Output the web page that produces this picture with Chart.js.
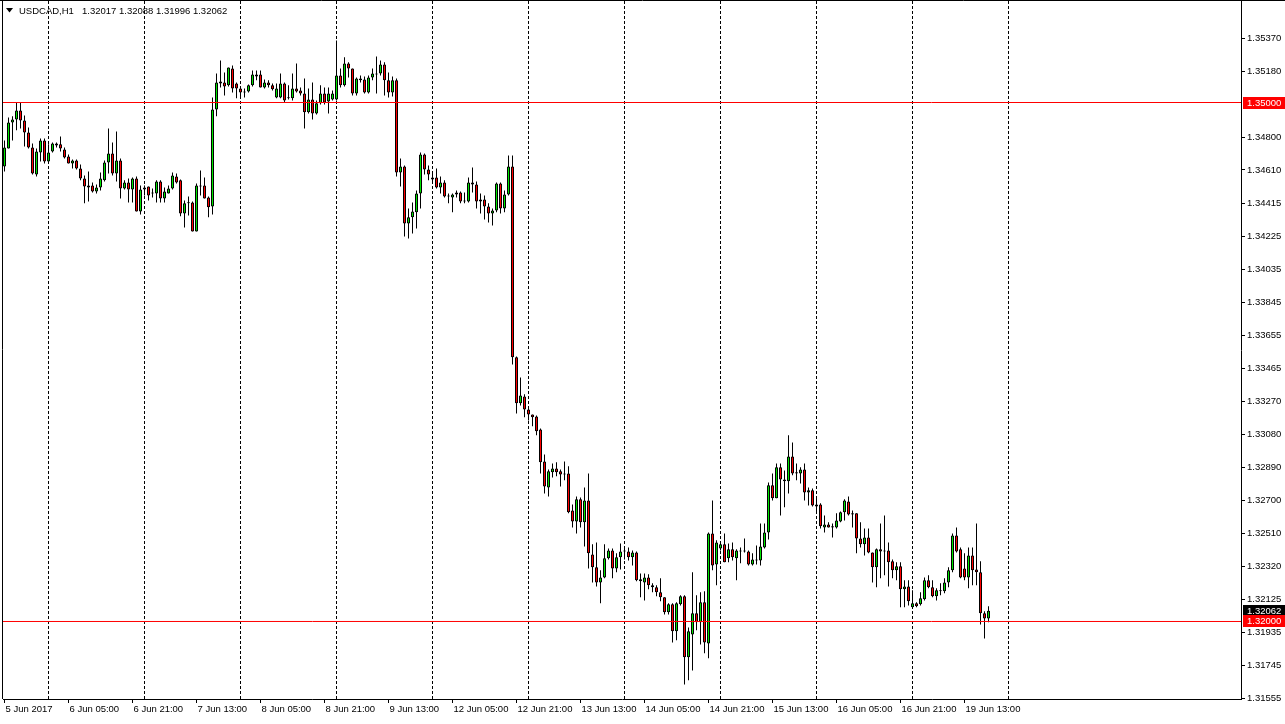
<!DOCTYPE html>
<html lang="en">
<head>
  <meta charset="UTF-8" />
  <title>USDCAD,H1</title>
  <style>
    body { margin: 0; padding: 0; background: #fff; }
    canvas { display: block; }
  </style>
</head>
<body>
  <canvas id="chart" width="1285" height="724"></canvas>

  <script src="https://cdn.jsdelivr.net/npm/chart.js"></script>

  <script>
    // USDCAD H1, bars from 5 Jun 13:00 to 19 Jun 19:00 (bar index 1 = first visible bar)
    const opens = [
      1.34630,1.34734,1.34885,1.34902,1.34954,1.34896,1.34827,1.34740,1.34584,1.34711,
      1.34781,1.34659,1.34717,1.34752,1.34758,1.34729,1.34688,1.34648,1.34665,1.34619,
      1.34561,1.34520,1.34520,1.34486,1.34509,1.34550,1.34653,1.34705,1.34590,1.34665,
      1.34503,1.34538,1.34497,1.34561,1.34370,1.34497,1.34515,1.34480,1.34474,1.34544,
      1.34445,1.34474,1.34503,1.34572,1.34550,1.34359,1.34422,1.34422,1.34255,1.34515,
      1.34520,1.34451,1.34399,1.34960,1.35110,1.35116,1.35099,1.35197,1.35110,1.35081,
      1.35058,1.35064,1.35099,1.35162,1.35162,1.35087,1.35116,1.35099,1.35029,1.35029,
      1.35110,1.35024,1.35024,1.35081,1.35070,1.35052,1.34943,1.35018,1.34937,1.34995,
      1.35052,1.35006,1.35018,1.35018,1.35156,1.35099,1.35226,1.35197,1.35052,1.35139,
      1.35133,1.35058,1.35145,1.35168,1.35168,1.35220,1.35128,1.35058,1.35128,1.34596,
      1.34630,1.34301,1.34336,1.34365,1.34474,1.34700,1.34613,1.34555,1.34567,1.34509,
      1.34538,1.34457,1.34451,1.34468,1.34480,1.34428,1.34428,1.34538,1.34526,1.34428,
      1.34440,1.34399,1.34359,1.34376,1.34532,1.34388,1.34468,1.34630,1.33527,1.33261,
      1.33301,1.33226,1.33197,1.33185,1.33110,1.32925,1.32775,1.32862,1.32885,1.32868,
      1.32856,1.32856,1.32642,1.32578,1.32706,1.32573,1.32700,1.32388,1.32313,1.32226,
      1.32255,1.32365,1.32411,1.32307,1.32371,1.32405,1.32405,1.32371,1.32399,1.32244,
      1.32226,1.32255,1.32209,1.32198,1.32169,1.32140,1.32053,1.32099,1.31943,1.32099,
      1.32146,1.31793,1.31925,1.32047,1.31995,1.32111,1.31873,1.32509,1.32330,1.32422,
      1.32446,1.32365,1.32417,1.32365,1.32405,1.32405,1.32405,1.32330,1.32353,1.32353,
      1.32428,1.32515,1.32787,1.32712,1.32891,1.32821,1.32810,1.32954,1.32862,1.32856,
      1.32879,1.32746,1.32758,1.32677,1.32677,1.32544,1.32561,1.32550,1.32544,1.32578,
      1.32631,1.32694,1.32625,1.32625,1.32480,1.32446,1.32486,1.32399,1.32313,1.32417,
      1.32411,1.32411,1.32348,1.32296,1.32319,1.32186,1.32203,1.32082,1.32105,1.32099,
      1.32128,1.32238,1.32198,1.32146,1.32180,1.32175,1.32226,1.32296,1.32497,1.32417,
      1.32307,1.32255,1.32382,1.32301,1.32284,1.32047,1.32017
    ];
    const highs = [
      1.34781,1.34914,1.34920,1.35000,1.35000,1.34925,1.34856,1.34763,1.34734,1.34792,
      1.34792,1.34758,1.34769,1.34769,1.34804,1.34740,1.34700,1.34671,1.34671,1.34642,
      1.34578,1.34601,1.34538,1.34526,1.34596,1.34665,1.34850,1.34769,1.34833,1.34677,
      1.34550,1.34561,1.34567,1.34572,1.34520,1.34520,1.34515,1.34503,1.34550,1.34550,
      1.34509,1.34520,1.34596,1.34590,1.34555,1.34434,1.34457,1.34428,1.34532,1.34607,
      1.34567,1.34457,1.35029,1.35168,1.35243,1.35174,1.35203,1.35214,1.35116,1.35087,
      1.35081,1.35104,1.35185,1.35185,1.35185,1.35133,1.35128,1.35110,1.35110,1.35168,
      1.35116,1.35099,1.35168,1.35226,1.35087,1.35139,1.35081,1.35116,1.35012,1.35099,
      1.35087,1.35087,1.35070,1.35359,1.35197,1.35261,1.35232,1.35197,1.35145,1.35156,
      1.35151,1.35156,1.35197,1.35266,1.35243,1.35232,1.35174,1.35151,1.35139,1.34677,
      1.34636,1.34388,1.34422,1.34492,1.34711,1.34705,1.34636,1.34590,1.34619,1.34572,
      1.34550,1.34474,1.34474,1.34492,1.34486,1.34480,1.34567,1.34625,1.34544,1.34474,
      1.34463,1.34417,1.34388,1.34538,1.34538,1.34492,1.34694,1.34694,1.33532,1.33411,
      1.33313,1.33237,1.33197,1.33191,1.33116,1.32966,1.32879,1.32914,1.32920,1.32879,
      1.32925,1.32897,1.32677,1.32723,1.32717,1.32775,1.32856,1.32446,1.32457,1.32296,
      1.32446,1.32422,1.32422,1.32394,1.32451,1.32434,1.32428,1.32411,1.32405,1.32278,
      1.32278,1.32273,1.32221,1.32209,1.32250,1.32140,1.32105,1.32105,1.32111,1.32152,
      1.32152,1.31966,1.32284,1.32152,1.32169,1.32175,1.32515,1.32700,1.32469,1.32451,
      1.32509,1.32451,1.32457,1.32417,1.32428,1.32480,1.32411,1.32394,1.32440,1.32567,
      1.32567,1.32804,1.32856,1.32914,1.32914,1.32873,1.33076,1.33035,1.32914,1.32891,
      1.32914,1.32775,1.32769,1.32717,1.32683,1.32613,1.32573,1.32567,1.32625,1.32636,
      1.32706,1.32723,1.32642,1.32625,1.32573,1.32538,1.32538,1.32399,1.32422,1.32567,
      1.32613,1.32457,1.32359,1.32342,1.32342,1.32238,1.32238,1.32180,1.32111,1.32169,
      1.32255,1.32267,1.32238,1.32192,1.32221,1.32250,1.32313,1.32509,1.32544,1.32428,
      1.32394,1.32428,1.32428,1.32567,1.32348,1.32059,1.32088
    ];
    const lows = [
      1.34601,1.34734,1.34781,1.34839,1.34850,1.34746,1.34734,1.34584,1.34572,1.34659,
      1.34648,1.34653,1.34711,1.34740,1.34717,1.34677,1.34648,1.34619,1.34613,1.34550,
      1.34417,1.34428,1.34480,1.34474,1.34492,1.34544,1.34590,1.34578,1.34544,1.34445,
      1.34497,1.34422,1.34422,1.34370,1.34353,1.34463,1.34434,1.34451,1.34422,1.34422,
      1.34422,1.34474,1.34497,1.34532,1.34342,1.34278,1.34347,1.34255,1.34255,1.34463,
      1.34445,1.34336,1.34353,1.34920,1.35087,1.35041,1.35093,1.35058,1.35024,1.35029,
      1.35029,1.35058,1.35093,1.35128,1.35087,1.35081,1.35087,1.35070,1.35024,1.35024,
      1.35000,1.35018,1.35012,1.35058,1.35041,1.34850,1.34937,1.34902,1.34931,1.34989,
      1.34989,1.34937,1.35012,1.35012,1.35087,1.35093,1.35145,1.35041,1.35041,1.35116,
      1.35052,1.35052,1.35128,1.35052,1.35156,1.35041,1.35029,1.35035,1.34572,1.34515,
      1.34226,1.34214,1.34243,1.34272,1.34388,1.34584,1.34550,1.34532,1.34503,1.34474,
      1.34451,1.34417,1.34365,1.34451,1.34417,1.34417,1.34422,1.34480,1.34388,1.34359,
      1.34324,1.34307,1.34289,1.34365,1.34359,1.34365,1.34463,1.33486,1.33203,1.33249,
      1.33180,1.33162,1.33128,1.33076,1.32856,1.32740,1.32723,1.32833,1.32839,1.32781,
      1.32816,1.32625,1.32544,1.32509,1.32544,1.32434,1.32307,1.32226,1.32203,1.32105,
      1.32250,1.32359,1.32250,1.32284,1.32301,1.32359,1.32353,1.32324,1.32232,1.32140,
      1.32122,1.32186,1.32169,1.32146,1.32117,1.32041,1.32041,1.31879,1.31891,1.32093,
      1.31636,1.31660,1.31717,1.31949,1.31867,1.31816,1.31787,1.32296,1.32209,1.32411,
      1.32342,1.32342,1.32353,1.32238,1.32336,1.32399,1.32324,1.32324,1.32330,1.32324,
      1.32422,1.32474,1.32700,1.32712,1.32613,1.32660,1.32740,1.32845,1.32816,1.32798,
      1.32700,1.32671,1.32665,1.32631,1.32538,1.32515,1.32544,1.32486,1.32538,1.32573,
      1.32584,1.32613,1.32544,1.32394,1.32428,1.32382,1.32394,1.32226,1.32198,1.32250,
      1.32267,1.32203,1.32250,1.32238,1.32082,1.32082,1.32093,1.32076,1.32082,1.32093,
      1.32122,1.32192,1.32140,1.32122,1.32152,1.32163,1.32198,1.32284,1.32399,1.32250,
      1.32238,1.32192,1.32209,1.32209,1.31983,1.31902,1.31996
    ];
    const closes = [
      1.34740,1.34885,1.34902,1.34954,1.34896,1.34827,1.34740,1.34590,1.34717,1.34781,
      1.34659,1.34711,1.34763,1.34763,1.34734,1.34682,1.34648,1.34665,1.34619,1.34561,
      1.34515,1.34509,1.34486,1.34509,1.34561,1.34653,1.34705,1.34590,1.34665,1.34503,
      1.34538,1.34497,1.34561,1.34370,1.34497,1.34509,1.34463,1.34474,1.34544,1.34445,
      1.34486,1.34503,1.34578,1.34538,1.34359,1.34417,1.34417,1.34255,1.34520,1.34520,
      1.34445,1.34394,1.34960,1.35116,1.35122,1.35093,1.35203,1.35081,1.35081,1.35058,
      1.35064,1.35099,1.35162,1.35151,1.35087,1.35116,1.35099,1.35076,1.35081,1.35110,
      1.35012,1.35024,1.35081,1.35064,1.35052,1.34943,1.35018,1.34937,1.34995,1.35052,
      1.35000,1.35052,1.35052,1.35156,1.35099,1.35226,1.35197,1.35052,1.35139,1.35128,
      1.35058,1.35145,1.35168,1.35162,1.35220,1.35128,1.35058,1.35128,1.34596,1.34630,
      1.34301,1.34336,1.34370,1.34474,1.34700,1.34613,1.34584,1.34567,1.34509,1.34538,
      1.34457,1.34457,1.34468,1.34480,1.34428,1.34428,1.34538,1.34526,1.34428,1.34440,
      1.34399,1.34359,1.34376,1.34532,1.34388,1.34468,1.34630,1.33527,1.33261,1.33307,
      1.33226,1.33197,1.33180,1.33099,1.32920,1.32781,1.32868,1.32885,1.32862,1.32850,
      1.32850,1.32631,1.32578,1.32706,1.32573,1.32700,1.32394,1.32313,1.32226,1.32255,
      1.32365,1.32411,1.32307,1.32371,1.32405,1.32411,1.32371,1.32399,1.32238,1.32232,
      1.32255,1.32209,1.32198,1.32169,1.32140,1.32053,1.32099,1.31943,1.32105,1.32146,
      1.31793,1.31943,1.32047,1.31995,1.32111,1.31879,1.32509,1.32324,1.32457,1.32446,
      1.32342,1.32417,1.32371,1.32411,1.32405,1.32411,1.32330,1.32359,1.32359,1.32434,
      1.32515,1.32787,1.32712,1.32891,1.32821,1.32810,1.32954,1.32856,1.32856,1.32879,
      1.32746,1.32758,1.32671,1.32665,1.32550,1.32561,1.32544,1.32544,1.32584,1.32631,
      1.32700,1.32619,1.32619,1.32480,1.32446,1.32486,1.32399,1.32313,1.32417,1.32405,
      1.32405,1.32342,1.32296,1.32319,1.32186,1.32203,1.32117,1.32105,1.32088,1.32134,
      1.32238,1.32198,1.32146,1.32180,1.32175,1.32226,1.32296,1.32497,1.32405,1.32255,
      1.32255,1.32382,1.32296,1.32284,1.32047,1.32018,1.32062
    ];

    // time axis: bar index of each label, and the day separators (00:00 bars)
    const labelBars = [1, 17, 33, 49, 65, 81, 97, 113, 129, 145, 161, 177, 193, 209, 225, 241];
    const labelTexts = ['5 Jun 2017', '6 Jun 05:00', '6 Jun 21:00', '7 Jun 13:00', '8 Jun 05:00',
      '8 Jun 21:00', '9 Jun 13:00', '12 Jun 05:00', '12 Jun 21:00', '13 Jun 13:00', '14 Jun 05:00',
      '14 Jun 21:00', '15 Jun 13:00', '16 Jun 05:00', '16 Jun 21:00', '19 Jun 13:00'];
    const separatorBars = [12, 36, 60, 84, 108, 132, 156, 180, 204, 228, 252];

    // price axis
    const priceTicks = [1.35370, 1.35180, 1.34800, 1.34610, 1.34415, 1.34225, 1.34035, 1.33845,
      1.33655, 1.33465, 1.33270, 1.33080, 1.32890, 1.32700, 1.32510, 1.32320, 1.32125,
      1.31935, 1.31745, 1.31555];
    const levelLines = [1.35000, 1.32000];
    const symbol = 'USDCAD,H1';

    const GREEN = '#00e600';
    const RED = '#ff0000';
    const FONT = { family: "'Liberation Sans', Arial, sans-serif", size: 9.5 };

    const n = opens.length;
    const bars = opens.map((o, k) => k + 1);
    const xMin = 0.625, xMax = 310.125;
    const lastClose = closes[n - 1];

    const overlay = {
      id: 'overlay',
      afterDraw(chart) {
        const { ctx, chartArea: a, scales: { y } } = chart;
        ctx.save();
        // window frame (top + left)
        ctx.strokeStyle = '#000';
        ctx.lineWidth = 1;
        ctx.beginPath();
        ctx.moveTo(0, 0.5); ctx.lineTo(chart.width, 0.5);
        ctx.moveTo(a.left - 0.5, 0); ctx.lineTo(a.left - 0.5, a.bottom);
        ctx.stroke();

        // price labels on the axis
        ctx.font = FONT.size + 'px ' + FONT.family;
        ctx.textBaseline = 'middle';
        ctx.textAlign = 'left';
        const badge = (v, bg) => {
          const py = Math.round(y.getPixelForValue(v));
          ctx.fillStyle = bg;
          ctx.fillRect(a.right + 2, py - 6, chart.width - a.right - 2, 12);
          ctx.fillStyle = '#fff';
          ctx.fillText(v.toFixed(5), a.right + 6, py);
        };
        badge(levelLines[0], RED);
        badge(lastClose, '#000');
        badge(levelLines[1], RED);

        // symbol / OHLC caption
        ctx.fillStyle = '#000';
        ctx.beginPath();
        ctx.moveTo(6, 8); ctx.lineTo(13, 8); ctx.lineTo(9.5, 12.5);
        ctx.closePath();
        ctx.fill();
        ctx.fillText(symbol, 19, 11);
        const ohlc = [opens[n - 1], highs[n - 1], lows[n - 1], closes[n - 1]].map(v => v.toFixed(5)).join(' ');
        ctx.fillText(ohlc, 82, 11);
        ctx.restore();
      }
    };

    const datasets = [
      {
        type: 'bar',
        order: 1,
        data: bars.map((b, k) => ({ x: b, y: [opens[k], closes[k]] })),
        backgroundColor: bars.map((b, k) => closes[k] >= opens[k] ? GREEN : RED),
        borderColor: '#000',
        borderWidth: 1,
        borderSkipped: false,
        barThickness: 3,
        minBarLength: 1,
        inflateAmount: 0,
        grouped: false
      },
      {
        type: 'bar',
        order: 2,
        data: bars.map((b, k) => ({ x: b, y: [lows[k], highs[k]] })),
        backgroundColor: '#000',
        borderWidth: 0,
        barThickness: 1,
        inflateAmount: 0,
        grouped: false
      }
    ].concat(levelLines.map(v => ({
      type: 'line',
      order: 0,
      data: [{ x: xMin, y: v }, { x: xMax, y: v }],
      borderColor: RED,
      borderWidth: 1,
      pointRadius: 0
    })));

    new Chart(document.getElementById('chart'), {
      type: 'bar',
      data: { datasets },
      options: {
        responsive: false,
        animation: false,
        devicePixelRatio: 1,
        layout: { padding: { top: 1, left: 3, right: 0, bottom: 0 } },
        plugins: { legend: { display: false }, tooltip: { enabled: false } },
        scales: {
          x: {
            type: 'linear',
            position: 'bottom',
            min: xMin,
            max: xMax,
            offset: false,
            afterBuildTicks: s => {
              s.ticks = separatorBars.concat(labelBars).sort((p, q) => p - q).map(v => ({ value: v }));
            },
            afterFit: s => {
              s.height = 25;
              s.paddingLeft = 0;
              s.paddingRight = 0;
            },
            grid: {
              offset: false,
              drawOnChartArea: true,
              drawTicks: true,
              tickLength: 4,
              lineWidth: 1,
              color: c => separatorBars.includes(c.tick && c.tick.value) ? '#000' : 'rgba(0,0,0,0)',
              tickColor: c => labelBars.includes(c.tick && c.tick.value) ? '#000' : 'rgba(0,0,0,0)'
            },
            border: { display: true, color: '#000', width: 1, dash: [3, 2] },
            ticks: {
              autoSkip: false,
              maxRotation: 0,
              minRotation: 0,
              align: 'start',
              labelOffset: 1,
              padding: 1,
              color: '#000',
              font: FONT,
              callback: v => {
                const k = labelBars.indexOf(v);
                return k >= 0 ? labelTexts[k] : '';
              }
            }
          },
          y: {
            type: 'linear',
            position: 'right',
            min: 1.3155202,
            max: 1.3558671,
            afterBuildTicks: s => { s.ticks = priceTicks.map(v => ({ value: v })); },
            afterFit: s => {
              s.width = 44;
              s.paddingTop = 0;
              s.paddingBottom = 0;
            },
            grid: { drawOnChartArea: false, drawTicks: true, tickLength: 4, tickColor: '#000' },
            border: { display: true, color: '#000', width: 1 },
            ticks: {
              autoSkip: false,
              padding: 2,
              color: '#000',
              font: FONT,
              callback: v => v.toFixed(5)
            }
          }
        }
      },
      plugins: [overlay]
    });
  </script>
</body>
</html>
